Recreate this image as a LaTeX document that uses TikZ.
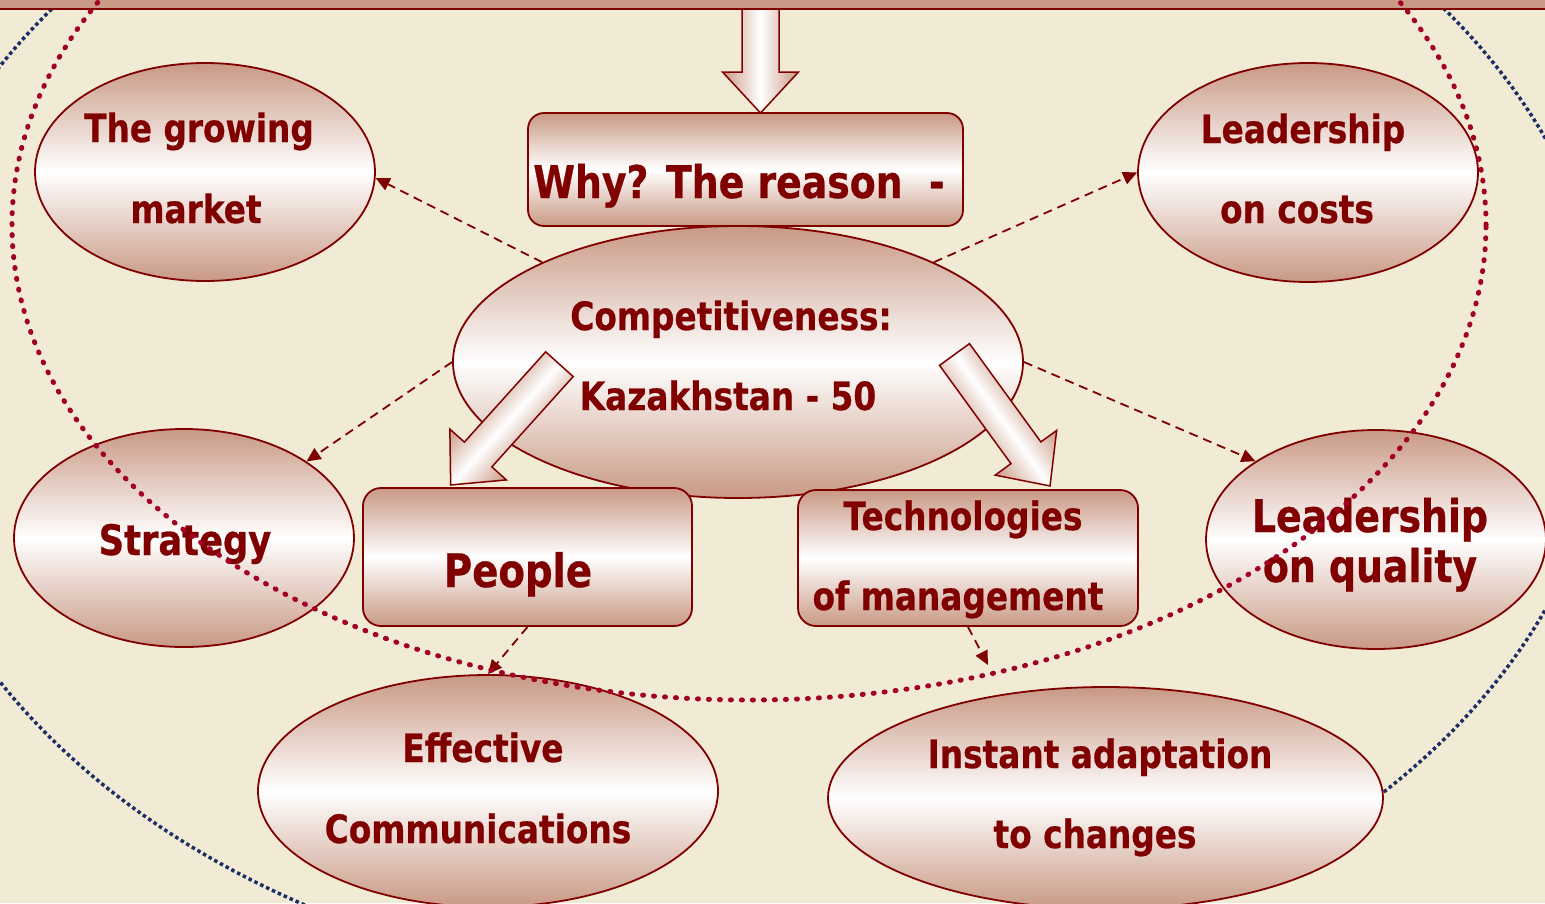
\documentclass[tikz,border=0pt]{standalone}
\usepackage{fontspec}
\setmainfont{DejaVu Sans}[FakeStretch=0.84,BoldFeatures={FakeBold=0.6}]
\usetikzlibrary{shapes.geometric,arrows.meta}
\definecolor{bg}{RGB}{241,235,214}
\definecolor{pinkc}{RGB}{201,153,133}
\definecolor{dkred}{RGB}{128,0,0}
\definecolor{crim}{RGB}{163,0,38}
\definecolor{navyc}{RGB}{30,45,100}
\newcommand{\fatarrow}[4]{%
  \begin{scope}[transform canvas={shift={(#1,#2)},rotate=#3}]
    \shade[fatarr] (0pt,18.5pt) -- ({#4pt-41pt},18.5pt) -- ({#4pt-41pt},38pt) -- (#4pt,0pt)
      -- ({#4pt-41pt},-38pt) -- ({#4pt-41pt},-18.5pt) -- (0pt,-18.5pt) -- cycle;
  \end{scope}}
\tikzset{
  shadefill/.style={top color=pinkc, bottom color=pinkc, middle color=white},
  ell/.style={ellipse, draw=dkred, line width=1.8pt, shadefill, inner sep=0pt},
  rbox/.style={rectangle, rounded corners=16pt, draw=dkred, line width=1.8pt, shadefill, inner sep=0pt},
  lbl/.style={anchor=base, text=dkred, font=\bfseries\fontsize{39}{40}\selectfont, inner sep=0pt},
  dasharr/.style={draw=dkred, line width=1.8pt, dash pattern=on 9pt off 6pt, -{Triangle[length=14pt,width=13pt]}},
  reddots/.style={draw=crim, line width=5pt, line cap=round, dash pattern=on 1pt off 10pt},
  bluedots/.style={draw=navyc, line width=3.5pt, dash pattern=on 3.5pt off 3pt},
  fatarr/.style={draw=dkred, line width=1.5pt, top color=pinkc, bottom color=pinkc, middle color=white}
}
\begin{document}
\begin{tikzpicture}[x=1pt,y=-1pt]
\useasboundingbox (0,0) rectangle (1545,903);
\clip (0,0) rectangle (1545,903);
\fill[bg] (0,0) rectangle (1545,903);
% blue dotted outer curve
\draw[bluedots] (748,374) ellipse [x radius=862pt, y radius=619pt];
% top band
\fill[pinkc] (0,0) rectangle (1545,8);
\draw[dkred, line width=2pt] (0,8.5) -- (1545,8.5);
% central nodes
\node[rbox, minimum width=435pt, minimum height=113pt] (why) at (745.5,169.5) {};
\node[ell, minimum width=570pt, minimum height=272pt] (comp) at (738,362) {};
\node[ell, minimum width=340pt, minimum height=218pt] (market) at (205,172) {};
\node[ell, minimum width=340pt, minimum height=219pt] (costs) at (1308,172.5) {};
\node[ell, minimum width=340pt, minimum height=218pt] (strategy) at (184,538) {};
\node[ell, minimum width=340pt, minimum height=219pt] (quality) at (1376,539.5) {};
\node[ell, minimum width=460pt, minimum height=232pt] (eff) at (488,791) {};
\node[ell, minimum width=555pt, minimum height=222pt] (inst) at (1105.5,798) {};
\node[rbox, rounded corners=18pt, minimum width=329pt, minimum height=138pt] (people) at (527.5,557) {};
\node[rbox, rounded corners=18pt, minimum width=340pt, minimum height=136pt] (tech) at (968,558) {};
\coordinate (techend) at (988,665);
% labels
\node[lbl, font=\bfseries\fontsize{45}{46}\selectfont] (twhy) at (739,198) {Why? The reason \ -};
\node[lbl] (tcomp1) at (731,330) {Competitiveness:};
\node[lbl] (tcomp2) at (728,410) {Kazakhstan - 50};
\node[lbl] (tmark1) at (199,142) {The growing};
\node[lbl] (tmark2) at (196,223) {market};
\node[lbl] (tcost1) at (1303,143) {Leadership};
\node[lbl] (tcost2) at (1297,223) {on costs};
\node[lbl, font=\bfseries\fontsize{42}{44}\selectfont] (tstrat) at (185,555) {Strategy};
\node[lbl, font=\bfseries\fontsize{45}{46}\selectfont] (tqual1) at (1370,532) {Leadership};
\node[lbl, font=\bfseries\fontsize{45}{46}\selectfont] (tqual2) at (1370,582) {on quality};
\node[lbl, font=\bfseries\fontsize{46}{46}\selectfont] (tpeople) at (518,587) {People};
\node[lbl] (ttech1) at (963,530) {Technologies};
\node[lbl] (ttech2) at (958,610) {of management};
\node[lbl] (teff1) at (483,762) {Effective};
\node[lbl] (teff2) at (478,843) {Communications};
\node[lbl] (tinst1) at (1100,768) {Instant adaptation};
\node[lbl] (tinst2) at (1095,848) {to changes};
% block arrows
\fatarrow{760.5}{9}{-90}{104}
\fatarrow{559.4}{364.2}{-132}{162.5}
\fatarrow{954.5}{354.5}{-54}{162.5}
% dashed connectors
\draw[dasharr] (comp.153) -- (market.-2);
\draw[dasharr] (comp.27) -- (costs.west);
\draw[dasharr] (comp.west) -- (strategy.32.6);
\draw[dasharr] (comp.east) -- (quality.147);
\draw[dasharr] (people.south) -- (eff.north);
\draw[dasharr] (tech.south) -- (techend);
% red dotted curve
\draw[reddots] (749,225) ellipse [x radius=737pt, y radius=475pt];
\end{tikzpicture}
\end{document}
